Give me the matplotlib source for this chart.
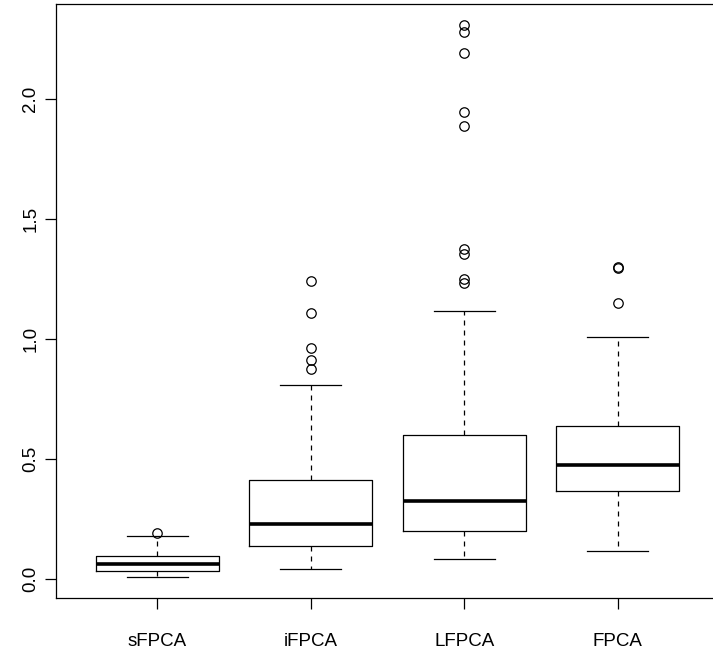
import matplotlib
matplotlib.use('Agg')
import matplotlib.pyplot as plt

plt.rcParams['font.family'] = ['Liberation Sans', 'DejaVu Sans']

# Five-number summaries per method, plus the points beyond the whiskers
methods = ['sFPCA', 'iFPCA', 'LFPCA', 'FPCA']
whislo = [0.010, 0.040, 0.083, 0.117]
q1 = [0.035, 0.139, 0.199, 0.367]
median = [0.061, 0.228, 0.325, 0.474]
q3 = [0.097, 0.411, 0.600, 0.639]
whishi = [0.178, 0.810, 1.119, 1.008]
outliers = [
    [0.193],
    [0.876, 0.913, 0.962, 1.110, 1.241],
    [1.233, 1.249, 1.355, 1.375, 1.890, 1.948, 2.194, 2.281, 2.311],
    [1.151, 1.298, 1.300],
]

stats = []
for i, name in enumerate(methods):
    stats.append({'label': name, 'whislo': whislo[i], 'q1': q1[i], 'med': median[i],
                  'q3': q3[i], 'whishi': whishi[i], 'fliers': outliers[i]})

W, H = 713, 650
fig = plt.figure(figsize=(W / 100, H / 100), dpi=100)
ax = fig.add_axes([56 / W, (H - 598) / H, (719 - 56) / W, (598 - 4) / H])

ax.bxp(stats, positions=[1, 2, 3, 4], widths=0.8, showfliers=True,
       boxprops=dict(color='black', linewidth=0.9),
       medianprops=dict(color='black', linewidth=2.6, solid_capstyle='butt'),
       whiskerprops=dict(color='black', linewidth=0.9, linestyle=(0, (4, 4))),
       capprops=dict(color='black', linewidth=0.9),
       capwidths=0.4,
       flierprops=dict(marker='o', markerfacecolor='none', markeredgecolor='black',
                       markersize=6.8, markeredgewidth=0.9))

ax.set_xlim(0.34, 4.66)
ax.set_ylim(-0.079, 2.397)
ax.set_yticks([0.0, 0.5, 1.0, 1.5, 2.0])
ax.set_yticklabels(['0.0', '0.5', '1.0', '1.5', '2.0'], rotation=90, va='center')
ax.set_xticks([1, 2, 3, 4])
ax.set_xticklabels(methods)
ax.tick_params(axis='both', direction='out', length=8, width=0.9, labelsize=13.5)
ax.tick_params(axis='y', pad=4)
ax.tick_params(axis='x', pad=17)
for s in ax.spines.values():
    s.set_linewidth(0.9)

fig.savefig('out.png', dpi=100)
